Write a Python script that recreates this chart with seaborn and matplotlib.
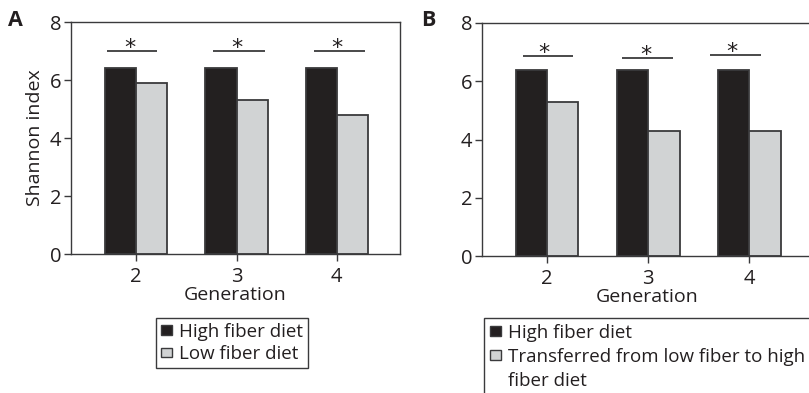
import matplotlib
matplotlib.use("Agg")
import matplotlib.pyplot as plt
import seaborn as sns
import pandas as pd
from matplotlib.patches import Patch

# Shannon diversity by generation
generations = ["2", "3", "4"]
high_fiber_a = [6.4, 6.4, 6.4]
low_fiber_a = [5.9, 5.3, 4.8]
high_fiber_b = [6.4, 6.4, 6.4]
transferred_b = [5.3, 4.3, 4.3]

label_high = "High fiber diet"
label_low = "Low fiber diet"
label_transfer = "Transferred from low fiber to high"
label_transfer_2 = "fiber diet"

DARK = "#231f20"
GRAY = "#d1d3d4"
LINE = "#3a3a3c"

sns.set_theme(style="white")
plt.rcParams["font.family"] = ["Open Sans", "DejaVu Sans"]
plt.rcParams["text.color"] = DARK
plt.rcParams["axes.labelcolor"] = DARK
plt.rcParams["xtick.color"] = DARK
plt.rcParams["ytick.color"] = DARK

fig = plt.figure(figsize=(8.09, 3.93), dpi=100)
W, H = 809.0, 393.0


def px_axes(left, top, right, bottom):
    return fig.add_axes([left / W, 1 - bottom / H, (right - left) / W, (bottom - top) / H])


def long_frame(first, second, name_first, name_second):
    return pd.DataFrame({
        "Generation": generations * 2,
        "value": list(first) + list(second),
        "group": [name_first] * len(first) + [name_second] * len(second),
    })


def draw_panel(ax, df, order_hue, xlim, bracket_y, bracket_spans, star_x):
    sns.barplot(data=df, x="Generation", y="value", hue="group", hue_order=order_hue,
                palette=[DARK, GRAY], width=0.62, edgecolor=LINE, linewidth=1.3,
                errorbar=None, legend=False, ax=ax)
    ax.set_ylim(0, 8)
    ax.set_xlim(*xlim)
    ax.set_yticks([0, 2, 4, 6, 8])
    ax.set_xlabel("Generation", fontsize=14, labelpad=0)
    ax.tick_params(axis="both", direction="out", length=5, width=1.0, color=LINE,
                   labelsize=14.5, left=True, bottom=True)
    ax.tick_params(axis="y", pad=2)
    ax.tick_params(axis="x", pad=4)
    for side in ["left", "bottom", "top", "right"]:
        ax.spines[side].set_color(LINE)
        ax.spines[side].set_linewidth(1.0)
    for i, (y, (a, b), sx) in enumerate(zip(bracket_y, bracket_spans, star_x)):
        ax.plot([i + a, i + b], [y, y], color=LINE, lw=1.3, solid_capstyle="butt")
        ax.text(i + sx, y - 0.1, "*", ha="center", va="baseline", fontsize=16,
                color=DARK, family="DejaVu Sans")


# Panel A
ax_a = px_axes(71, 22, 400, 254)
draw_panel(ax_a, long_frame(high_fiber_a, low_fiber_a, label_high, label_low),
           [label_high, label_low], (-0.65, 2.63),
           [7.0, 7.0, 7.0],
           [(-0.29, 0.21), (-0.23, 0.28), (-0.23, 0.28)],
           [-0.06, 0.0, 0.0])
ax_a.set_ylabel("Shannon index", fontsize=14, labelpad=4)

# Panel B
ax_b = px_axes(482, 23, 812, 256)
draw_panel(ax_b, long_frame(high_fiber_b, transferred_b, label_high, label_transfer),
           [label_high, label_transfer], (-0.644, 2.62),
           [6.87, 6.8, 6.9],
           [(-0.24, 0.26), (-0.26, 0.25), (-0.39, 0.12)],
           [-0.03, -0.02, -0.17])
ax_b.set_ylabel("")

fig.text(8 / W, 1 - 20 / H, "A", fontsize=15.5, fontweight="bold", ha="left", va="center")
fig.text(421 / W, 1 - 20 / H, "B", fontsize=15.5, fontweight="bold", ha="left", va="center")

legend_style = dict(loc="upper left", fontsize=13.5, frameon=True, fancybox=False,
                    edgecolor=LINE, framealpha=1, borderaxespad=0, handlelength=0.6,
                    handleheight=0.4, handletextpad=0.4, borderpad=0.25, labelspacing=0.25)

handles_a = [Patch(facecolor=DARK, edgecolor=LINE, linewidth=1.0),
             Patch(facecolor=GRAY, edgecolor=LINE, linewidth=1.0)]
leg_a = fig.legend(handles_a, [label_high, label_low],
                   bbox_to_anchor=(156 / W, 1 - 318 / H), **legend_style)
leg_a.get_frame().set_linewidth(1.0)

handles_b = [Patch(facecolor=DARK, edgecolor=LINE, linewidth=1.0),
             Patch(facecolor=GRAY, edgecolor=LINE, linewidth=1.0),
             Patch(facecolor="none", edgecolor="none")]
leg_b_style = dict(legend_style)
leg_b_style["labelspacing"] = 0.33
leg_b_style["borderpad"] = 0.3
# the box runs past the right edge of the figure
leg_b = fig.legend(handles_b, [label_high, label_transfer, label_transfer_2],
                   bbox_to_anchor=(484 / W, 1 - 418 / H, 340 / W, 100 / H),
                   mode="expand", **leg_b_style)
leg_b.get_frame().set_linewidth(1.0)

fig.savefig("out.png", dpi=100)
